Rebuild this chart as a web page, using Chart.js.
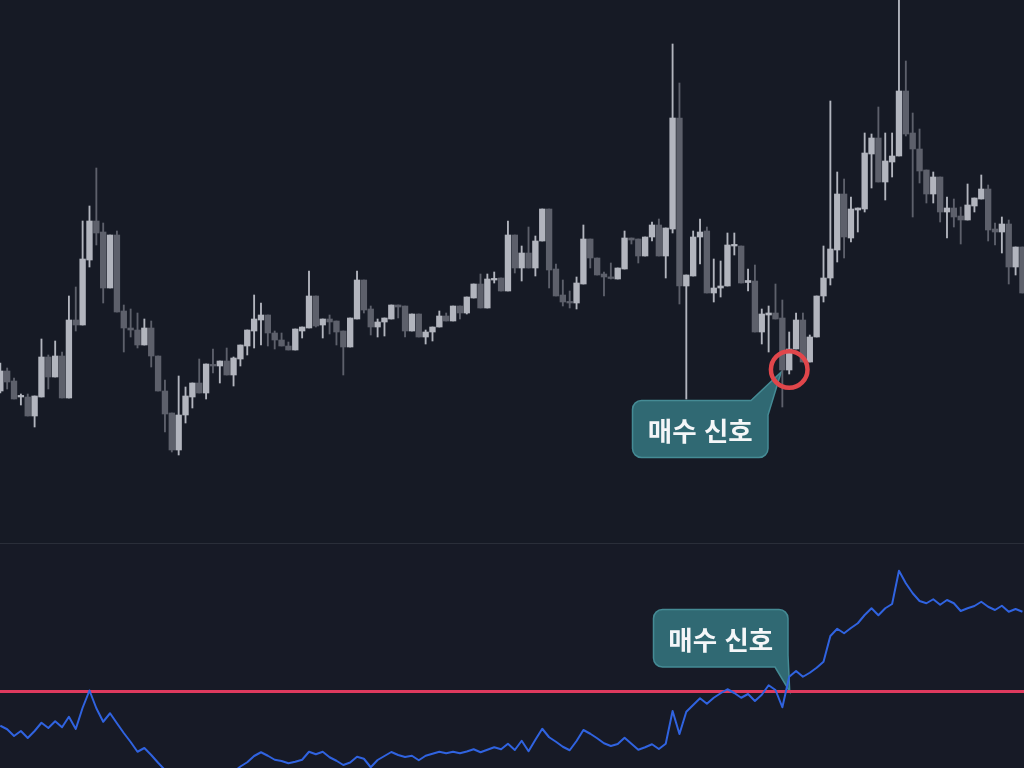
<!DOCTYPE html>
<html lang="ko">
<head>
<meta charset="utf-8">
<script src="https://cdn.jsdelivr.net/npm/chart.js@4.4.1/dist/chart.umd.min.js"></script>
<style>
html,body{margin:0;padding:0;background:#161a25;width:1024px;height:768px;overflow:hidden;}
#topWrap{position:absolute;left:0;top:0;width:1024px;height:543px;}
#sep{position:absolute;left:0;top:543px;width:1024px;height:1px;background:#2a2e39;}
#botWrap{position:absolute;left:0;top:544px;width:1024px;height:224px;background:#171a26;}
canvas{display:block;}
.label{position:absolute;display:flex;align-items:center;justify-content:center;color:#f4f6f8;
  font:700 26.5px "Noto Sans CJK KR","Noto Sans",sans-serif;white-space:nowrap;pointer-events:none;}
</style>
</head>
<body>
<div id="topWrap"><canvas id="topCanvas" width="1024" height="543"></canvas></div>
<div id="sep"></div>
<div id="botWrap"><canvas id="botCanvas" width="1024" height="224"></canvas></div>
<div class="label" style="left:632.5px;top:400.5px;width:135.5px;height:57px;">매수 신호</div>
<div class="label" style="left:653.5px;top:609.5px;width:134.5px;height:57.5px;">매수 신호</div>
<script>
// ---- data ----
const open = [
  71.8,75.8,73.8,70.6,70.6,66.8,70.6,78.6,74.6,78.8,
  70.4,86.0,85.0,98.0,105.8,103.6,92.4,103.0,87.8,84.4,
  84.0,81.0,84.4,78.8,71.8,67.4,60.0,67.0,70.6,73.4,
  71.4,77.0,76.8,77.8,75.0,78.2,80.8,83.8,86.0,87.0,
  83.4,82.0,80.8,80.0,83.8,84.4,90.8,85.0,86.2,85.8,
  83.8,80.6,86.2,94.0,88.2,84.6,85.6,86.2,89.0,88.8,
  83.8,87.2,82.6,83.6,84.6,86.8,85.8,88.8,87.4,90.4,
  93.2,88.4,94.0,94.4,91.8,103.0,96.4,99.4,96.4,101.8,
  108.2,96.2,91.0,89.6,89.4,93.2,102.2,98.4,95.2,94.6,
  94.2,96.2,102.4,102.2,98.8,102.6,105.0,98.8,104.2,126.4,
  92.8,94.8,102.6,103.8,91.4,92.4,92.8,100.8,100.8,93.5,
  93.8,83.6,87.0,87.4,86.4,76.0,80.2,86.0,77.6,82.6,
  90.8,94.4,100.0,111.2,102.4,108.0,108.2,119.2,122.4,113.6,
  117.6,118.8,131.8,123.4,120.2,116.0,111.2,114.6,107.6,108.4,
  106.8,106.0,108.8,110.2,112.2,104.2,103.6,105.2,96.6,100.6
];
const high = [
  77.4,76.4,74.4,71.2,71.2,70.8,82.2,79.0,81.8,79.6,
  90.8,92.6,105.8,108.8,116.4,105.4,103.0,103.8,89.0,88.2,
  87.4,86.2,85.8,78.8,74.0,67.4,74.8,72.6,73.4,78.2,
  77.2,80.2,77.8,80.4,78.6,81.0,84.0,91.0,89.4,87.0,
  83.8,83.4,81.6,84.2,84.6,95.8,90.8,86.2,87.0,85.8,
  83.8,86.4,95.8,94.0,88.8,86.2,86.4,89.0,89.0,88.8,
  87.2,87.2,84.0,84.6,87.8,87.4,88.8,88.8,90.6,93.2,
  95.2,95.2,95.6,94.4,105.8,103.0,100.8,104.6,102.8,108.2,
  108.2,97.2,94.0,91.8,94.6,105.0,102.2,98.4,95.6,97.4,
  96.4,103.8,102.4,102.2,102.6,105.6,106.2,104.4,141.2,133.4,
  95.0,103.8,106.2,104.6,98.2,97.8,103.4,103.4,100.8,96.2,
  97.0,88.2,88.8,93.2,90.0,83.6,87.4,87.4,83.0,90.8,
  100.8,129.8,115.6,114.2,110.6,108.4,123.4,123.2,128.6,123.4,
  123.4,152.0,137.8,127.4,124.2,116.0,115.6,114.6,110.6,110.2,
  108.6,113.2,110.4,115.0,113.0,105.4,106.6,106.0,100.6,100.6
];
const low = [
  71.4,72.2,70.2,69.0,66.8,64.6,70.6,72.2,74.6,70.4,
  70.4,83.8,85.0,96.6,101.0,89.4,92.4,87.6,79.6,82.6,
  80.4,81.0,76.6,71.8,63.6,59.6,59.0,65.4,68.4,71.4,
  70.2,75.4,73.4,75.0,72.8,76.8,79.0,80.4,81.0,80.8,
  80.2,80.8,80.0,80.0,82.4,84.4,84.6,82.4,83.2,81.0,
  75.0,80.6,86.2,87.4,83.0,82.6,82.8,86.2,86.4,82.6,
  83.8,82.6,81.2,81.8,84.6,85.8,85.8,86.2,87.2,90.4,
  88.4,88.4,93.4,91.8,91.8,95.4,93.8,96.4,94.8,101.8,
  92.4,90.8,88.8,88.4,88.2,93.2,96.4,95.0,90.8,94.2,
  94.2,96.2,101.2,97.4,98.8,101.8,98.8,94.4,103.4,89.2,
  70.2,94.8,97.2,91.4,89.6,90.6,92.8,99.0,93.4,91.8,
  83.6,81.2,79.6,86.2,68.6,75.2,80.2,77.6,77.6,82.6,
  89.6,93.0,97.6,98.4,101.6,103.6,107.6,112.4,113.6,110.0,
  114.6,118.8,122.8,106.6,113.4,109.4,109.4,105.6,102.4,104.6,
  101.2,106.0,107.6,110.2,101.8,101.0,99.4,93.2,95.0,91.4
];
const close = [
  75.8,73.6,70.2,70.7,66.8,70.8,78.6,74.6,78.8,70.4,
  86.0,85.0,98.2,105.8,103.4,92.4,103.0,87.6,84.4,84.0,
  81.0,84.4,78.8,71.8,67.2,60.0,67.0,70.8,73.4,71.4,
  77.2,76.8,77.8,75.0,78.4,81.0,84.0,86.2,87.0,83.4,
  82.0,80.8,80.0,84.2,84.6,90.8,84.8,86.2,85.6,83.6,
  80.6,86.4,94.0,88.0,84.6,85.6,86.4,89.0,88.6,83.8,
  87.2,82.6,83.6,84.6,86.8,85.8,88.8,87.4,90.6,93.2,
  88.4,94.2,94.2,91.8,103.0,96.4,99.4,96.4,101.8,108.2,
  96.0,90.8,89.6,89.4,93.4,102.2,98.4,95.0,94.6,94.3,
  96.4,102.4,102.0,98.8,102.6,105.0,98.8,104.4,126.4,92.8,
  95.0,102.6,103.6,91.4,92.4,92.8,101.0,101.1,93.4,93.9,
  83.6,87.2,87.4,86.2,76.0,80.2,86.0,77.6,82.6,90.8,
  94.4,100.2,111.2,102.6,108.2,108.4,119.4,122.4,113.6,117.8,
  118.8,131.8,123.2,120.2,115.8,111.2,114.6,107.6,108.4,106.6,
  106.0,109.0,110.4,112.2,104.0,103.6,105.2,96.6,100.6,91.4
];
const indicator = [
  36.3,34.9,32.2,34.2,31.4,34.2,37.5,35.4,38.1,35.7,
  39.9,35.0,43.5,50.4,43.3,37.9,41.3,37.3,33.4,29.8,
  25.9,27.4,24.6,21.5,18.6,16.2,14.6,15.4,13.0,13.8,
  12.2,14.6,15.4,16.2,17.8,20.0,21.7,24.2,25.7,24.3,
  22.7,22.2,21.3,21.9,22.7,25.9,24.9,25.9,23.7,22.3,
  20.6,21.6,23.9,23.1,19.7,22.6,24.2,25.8,24.6,23.8,
  24.3,22.5,24.3,25.1,25.9,25.3,25.9,25.3,26.0,26.9,
  25.7,26.7,27.7,26.9,29.1,26.6,30.3,26.1,30.7,35.1,
  31.7,29.9,27.9,26.5,30.2,34.6,33.1,31.3,29.3,28.2,
  29.0,31.5,29.1,26.7,27.7,28.9,27.0,29.1,42.2,33.0,
  41.9,44.6,47.3,45.1,47.5,49.3,50.9,49.4,47.5,49.0,
  46.2,48.7,52.5,50.6,43.7,55.9,58.2,55.9,57.5,59.5,
  61.9,72.2,75.1,73.3,75.4,77.3,80.6,83.3,80.5,83.3,
  85.0,98.3,93.3,89.3,86.2,85.3,86.9,84.7,86.6,85.3,
  82.2,83.3,84.2,85.9,83.9,82.6,84.3,81.9,83.0,81.9
];
const signalLevel = 50;
const signalIndex = 115;
const signalLabel = '매수 신호';

// ---- layout / style ----
const X_MIN = -0.044, X_MAX = 149.226;
const UP = '#b2b5be', DOWN = '#5d606b';
const idx = open.map((_, i) => i);
const colors = idx.map(i => close[i] >= open[i] ? UP : DOWN);

function roundedCalloutTop(ctx, b, t) {
  const r = b.r;
  ctx.beginPath();
  ctx.moveTo(b.x0 + r, b.y0);
  ctx.lineTo(t.ax, b.y0);
  ctx.lineTo(t.tx, t.ty);
  ctx.lineTo(b.x1, t.by);
  ctx.lineTo(b.x1, b.y1 - r);
  ctx.arcTo(b.x1, b.y1, b.x1 - r, b.y1, r);
  ctx.lineTo(b.x0 + r, b.y1);
  ctx.arcTo(b.x0, b.y1, b.x0, b.y1 - r, r);
  ctx.lineTo(b.x0, b.y0 + r);
  ctx.arcTo(b.x0, b.y0, b.x0 + r, b.y0, r);
  ctx.closePath();
}
function roundedCalloutBottom(ctx, b, t) {
  const r = b.r;
  ctx.beginPath();
  ctx.moveTo(b.x0 + r, b.y0);
  ctx.lineTo(b.x1 - r, b.y0);
  ctx.arcTo(b.x1, b.y0, b.x1, b.y0 + r, r);
  ctx.lineTo(b.x1, t.by);
  ctx.lineTo(t.tx, t.ty);
  ctx.lineTo(t.ax, b.y1);
  ctx.lineTo(b.x0 + r, b.y1);
  ctx.arcTo(b.x0, b.y1, b.x0, b.y1 - r, r);
  ctx.lineTo(b.x0, b.y0 + r);
  ctx.arcTo(b.x0, b.y0, b.x0 + r, b.y0, r);
  ctx.closePath();
}
function paintCallout(ctx) {
  ctx.globalAlpha = 0.93;
  ctx.fillStyle = '#33707a';
  ctx.fill();
  ctx.globalAlpha = 1;
  ctx.lineWidth = 1.5;
  ctx.strokeStyle = '#458b95';
  ctx.stroke();
}

const topAnnot = {
  id: 'topAnnot',
  beforeDatasetsDraw(chart) {
    const ctx = chart.ctx, xs = chart.scales.x, ys = chart.scales.y;
    const cx = xs.getPixelForValue(signalIndex), cy = ys.getPixelForValue(open[signalIndex]);
    ctx.save();
    roundedCalloutTop(ctx, {x0: 632.5, y0: 400.5, x1: 768, y1: 457.5, r: 9},
      {ax: 751, tx: cx - 8, ty: cy + 2, by: 415});
    paintCallout(ctx);
    ctx.restore();
  },
  afterDatasetsDraw(chart) {
    const ctx = chart.ctx, xs = chart.scales.x, ys = chart.scales.y;
    const cx = xs.getPixelForValue(signalIndex), cy = ys.getPixelForValue(open[signalIndex]);
    ctx.save();
    ctx.beginPath();
    ctx.arc(cx, cy - 0.5, 18.3, 0, Math.PI * 2);
    ctx.lineWidth = 4.5;
    ctx.strokeStyle = '#e0464b';
    ctx.stroke();
    ctx.restore();
  }
};

const botAnnot = {
  id: 'botAnnot',
  beforeDatasetsDraw(chart) {
    const ctx = chart.ctx, xs = chart.scales.x, ys = chart.scales.y;
    const tx = xs.getPixelForValue(signalIndex) + 0.5, ty = ys.getPixelForValue(signalLevel);
    ctx.save();
    roundedCalloutBottom(ctx, {x0: 653.5, y0: 65.5, x1: 788, y1: 123, r: 9},
      {ax: 775, tx: tx, ty: ty, by: 111});
    paintCallout(ctx);
    ctx.restore();
  }
};

new Chart(document.getElementById('topCanvas'), {
  type: 'bar',
  data: {
    datasets: [
      { label: 'body', data: idx.map(i => ({x: i, y: [open[i], close[i]]})),
        backgroundColor: colors, barThickness: 5.7, minBarLength: 1.6, grouped: false, borderWidth: 0 },
      { label: 'wick', data: idx.map(i => ({x: i, y: [low[i], high[i]]})),
        backgroundColor: colors, barThickness: 1.2, grouped: false, borderWidth: 0 }
    ]
  },
  options: {
    responsive: false, animation: false, devicePixelRatio: 1,
    layout: {padding: 0},
    scales: {
      x: {type: 'linear', min: X_MIN, max: X_MAX, offset: false, display: false},
      y: {type: 'linear', min: 41.4, max: 150, display: false}
    },
    plugins: {legend: {display: false}, tooltip: {enabled: false}}
  },
  plugins: [topAnnot]
});

new Chart(document.getElementById('botCanvas'), {
  type: 'line',
  data: {
    datasets: [
      { label: 'indicator', data: idx.map(i => ({x: i, y: indicator[i]})),
        borderColor: '#3063e0', borderWidth: 2, pointRadius: 0, tension: 0,
        borderJoinStyle: 'round', fill: false },
      { label: 'level', data: [{x: X_MIN, y: signalLevel}, {x: X_MAX, y: signalLevel}],
        borderColor: '#de3a5e', borderWidth: 3, pointRadius: 0, fill: false }
    ]
  },
  options: {
    responsive: false, animation: false, devicePixelRatio: 1,
    layout: {padding: 0},
    scales: {
      x: {type: 'linear', min: X_MIN, max: X_MAX, display: false},
      y: {type: 'linear', min: 19.4, max: 109.0, display: false}
    },
    plugins: {legend: {display: false}, tooltip: {enabled: false}}
  },
  plugins: [botAnnot]
});
</script>
</body>
</html>
